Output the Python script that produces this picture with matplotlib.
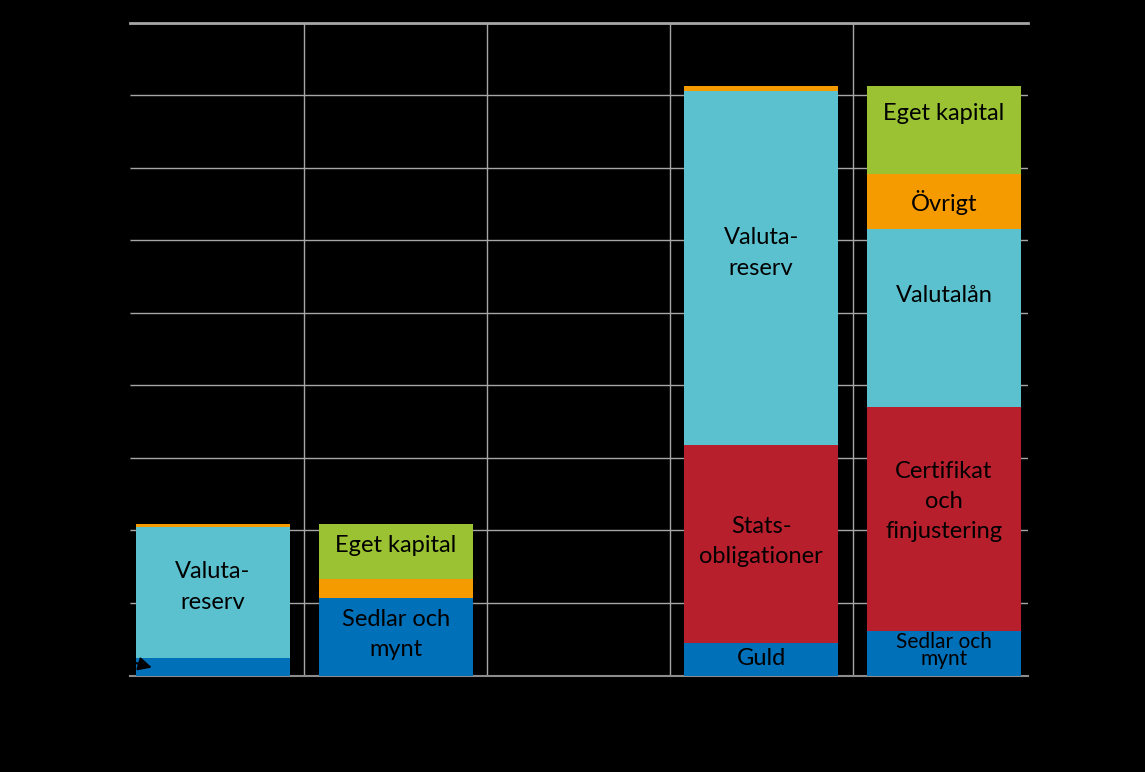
import numpy as np
import matplotlib.pyplot as plt

# balance sheet, billion SEK
bars = [0, 1, 2, 3, 4]

# segments per bar, bottom to top
bar_assets_before = [24, 180, 5]
bar_liab_before = [107, 26, 76]
bar_assets_after = [45, 273, 487, 8]
bar_liab_after = [62, 308, 246, 75, 122]

keys_assets_before = ["blue", "cyan", "orange"]
keys_liab_before = ["blue", "orange", "green"]
keys_assets_after = ["blue", "red", "cyan", "orange"]
keys_liab_after = ["blue", "red", "cyan", "orange", "green"]

labels_assets_before = ["", "Valuta-\nreserv", ""]
labels_liab_before = ["Sedlar och\nmynt", "", "Eget kapital"]
labels_assets_after = ["Guld", "Stats-\nobligationer", "Valuta-\nreserv", ""]
labels_liab_after = ["Sedlar och\nmynt", "Certifikat\noch\nfinjustering", "Valutalån", "Övrigt", "Eget kapital"]

COLORS = {
    "blue": "#0070b9",
    "cyan": "#5bc1cf",
    "red": "#b81f2d",
    "orange": "#f59b00",
    "green": "#9ac232",
}

plt.rcParams['font.family'] = ['Lato', 'DejaVu Sans']

fig = plt.figure(figsize=(11.45, 7.72), dpi=100, facecolor="black")
ax = fig.add_axes([130 / 1145, 96.5 / 772, 898 / 1145, 653 / 772])
ax.set_facecolor("black")

stacks = [
    (0, bar_assets_before, keys_assets_before, labels_assets_before, [8, 8, 0]),
    (1, bar_liab_before, keys_liab_before, labels_liab_before, [3, 0, 8]),
    (3, bar_assets_after, keys_assets_after, labels_assets_after, [1, 3, 21, 0]),
    (4, bar_liab_after, keys_liab_after, labels_liab_after, [3, 24, 31, -2, 23]),
]

width = 0.843
for x, vals, keys, labels, nudge in stacks:
    bottom = 0
    for v, k, lab, dy in zip(vals, keys, labels, nudge):
        ax.bar(x, v, width, bottom=bottom, color=COLORS[k], edgecolor="none", zorder=3)
        if lab:
            small = x == 4 and lab.startswith("Sedlar")
            ax.text(x, bottom + v / 2 + dy, lab, ha="center", va="center",
                    fontsize=15 if small else 17, color="black",
                    linespacing=0.8 if small else 1.55, zorder=4)
        bottom += v

# small arrow at the gold segment of the first bar
ax.annotate("Guld", xy=(-0.334, 11), xytext=(-0.7, 45), color="black", fontsize=14,
            ha="right", va="center", annotation_clip=False,
            arrowprops=dict(arrowstyle="-|>", color="black", lw=1.5, mutation_scale=20,
                            shrinkA=0, shrinkB=0),
            zorder=5)

ax.set_xlim(-0.454, 4.46)
ax.set_ylim(0, 900)
ax.set_yticks(np.arange(0, 901, 100))
ax.yaxis.grid(True, color="#a6a6a6", lw=1)
ax.set_axisbelow(True)
for xv in [0.5, 1.5, 2.5, 3.5]:
    ax.axvline(xv, color="#a6a6a6", lw=1, zorder=1)

ax.set_xticks([])
ax.tick_params(axis="y", colors="black", labelcolor="black", labelsize=13, length=4)
for side in ["left", "right"]:
    ax.spines[side].set_visible(False)
ax.spines["top"].set_color("#a6a6a6")
ax.spines["top"].set_linewidth(2)
ax.spines["bottom"].set_color("#8c8c8c")
ax.spines["bottom"].set_linewidth(1.5)

fig.savefig("out.png", dpi=100, facecolor="black")
